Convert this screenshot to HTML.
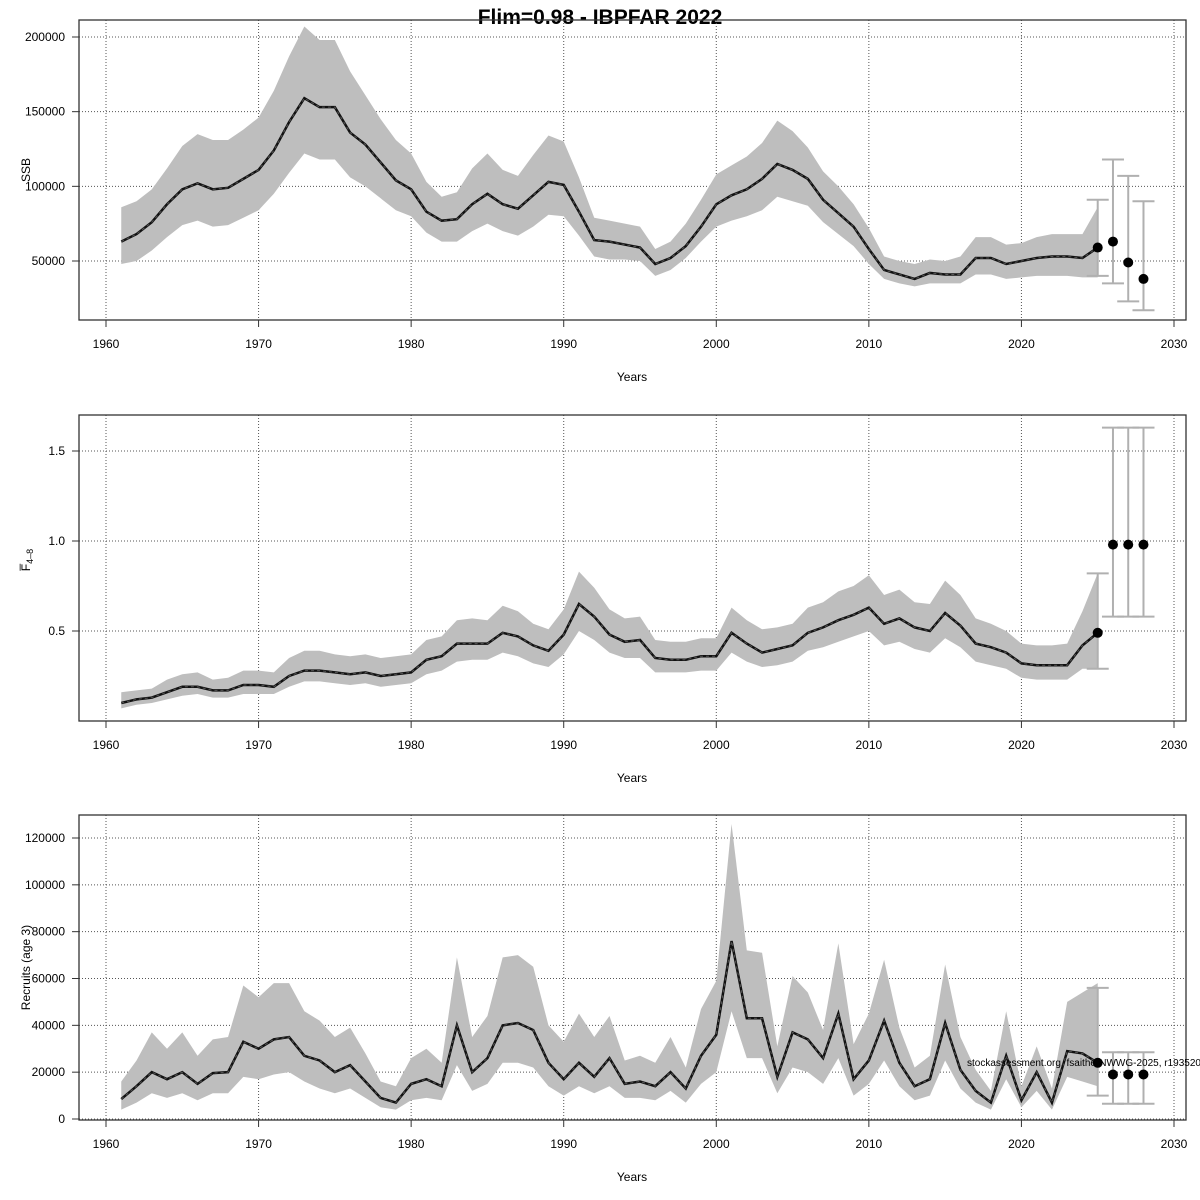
<!DOCTYPE html>
<html><head><meta charset="utf-8"><style>
body{margin:0;background:#fff;}
svg{display:block;font-family:"Liberation Sans",Arial,sans-serif;}
</style></head><body>
<svg id="chart" width="1200" height="1200" viewBox="0 0 1200 1200" xmlns="http://www.w3.org/2000/svg">
<text x="600" y="24" text-anchor="middle" font-size="21" font-weight="bold">Flim=0.98 - IBPFAR 2022</text>
</svg>
<script>
const years=[];for(let y=1961;y<=2025;y++)years.push(y);
const ssbMed=[63,68,76,88,98,102,98,99,105,111,124,143,159,153,153,136,128,116,104,98,83,77,78,88,95,88,85,94,103,101,83,64,63,61,59,48,52,60,73,88,94,98,105,115,111,105,91,82,73,58,44,41,38,42,41,41,52,52,48,50,52,53,53,52,59];
const ssbLow=[48,50,57,66,74,77,73,74,79,84,95,109,122,118,118,106,100,92,84,80,69,63,63,70,75,70,67,73,81,80,67,53,51,51,50,40,44,52,63,73,77,80,84,93,90,87,76,68,60,48,38,35,33,35,35,35,41,41,38,39,40,40,40,39,39];
const ssbHigh=[86,90,98,112,127,135,131,131,138,146,164,187,207,198,198,177,161,145,131,122,103,93,96,112,122,111,107,121,134,130,106,79,77,75,73,58,63,75,91,108,114,120,129,144,137,126,110,100,88,72,53,50,48,51,50,53,66,66,61,62,66,68,68,68,86];
const ssbFcYears=[2025,2026,2027,2028];
const ssbFc=[59,63,49,38];
const ssbFcLow=[40,35,23,17];
const ssbFcHigh=[91,118,107,90];
const ssbTicks=[50000,100000,150000,200000];

const fMed=[0.10,0.12,0.13,0.16,0.19,0.19,0.17,0.17,0.20,0.20,0.19,0.25,0.28,0.28,0.27,0.26,0.27,0.25,0.26,0.27,0.34,0.36,0.43,0.43,0.43,0.49,0.47,0.42,0.39,0.48,0.65,0.58,0.48,0.44,0.45,0.35,0.34,0.34,0.36,0.36,0.49,0.43,0.38,0.40,0.42,0.49,0.52,0.56,0.59,0.63,0.54,0.57,0.52,0.50,0.60,0.53,0.43,0.41,0.38,0.32,0.31,0.31,0.31,0.42,0.49];
const fLow=[0.07,0.09,0.10,0.12,0.14,0.15,0.13,0.13,0.15,0.15,0.15,0.19,0.22,0.22,0.21,0.20,0.21,0.19,0.20,0.21,0.26,0.28,0.33,0.34,0.34,0.38,0.36,0.32,0.30,0.37,0.50,0.45,0.38,0.35,0.35,0.27,0.27,0.27,0.28,0.28,0.38,0.33,0.30,0.31,0.33,0.39,0.41,0.44,0.47,0.50,0.42,0.44,0.40,0.38,0.46,0.41,0.33,0.31,0.29,0.24,0.23,0.23,0.23,0.29,0.29];
const fHigh=[0.16,0.17,0.18,0.23,0.26,0.27,0.23,0.24,0.28,0.28,0.27,0.35,0.39,0.39,0.37,0.36,0.37,0.35,0.36,0.37,0.45,0.47,0.56,0.57,0.56,0.64,0.61,0.54,0.51,0.62,0.83,0.74,0.62,0.57,0.58,0.45,0.44,0.44,0.46,0.46,0.63,0.56,0.51,0.52,0.54,0.63,0.66,0.72,0.75,0.81,0.70,0.73,0.66,0.65,0.78,0.70,0.57,0.54,0.50,0.43,0.42,0.42,0.43,0.61,0.82];
const fFc=[0.49,0.98,0.98,0.98];
const fFcLow=[0.29,0.58,0.58,0.58];
const fFcHigh=[0.82,1.63,1.63,1.63];
const fTicks=[0.5,1.0,1.5];

const recMed=[8.5,14,20,17,20,15,19.6,20,33,30,34,35,27,25,20,23,16,9,7,15,17,14,40,20,26,40,41,38,24,17,24,18,26,15,16,14,20,13,27,36,76,43,43,18,37,34,26,45,17,25,42,24,14,17,41,21,12,7,27,8,20,7,29,28,24];
const recLow=[4,7,11,9,11,8,11,11,18,17,19,20,16,13,11,13,9,5,4,8,9,8,23,12,15,24,24,22,14,10,14,11,14,9,9,8,12,7,15,20,46,26,26,11,22,20,15,26,10,15,25,14,8,10,25,13,7,4,17,5,12,4,18,16,14];
const recHigh=[16,25,37,30,37,27,34,35,57,52,58,58,46,42,35,39,28,16,14,26,30,24,69,35,44,69,70,65,40,33,45,35,44,25,27,24,35,22,47,59,126,72,71,31,61,54,38,75,32,45,68,39,22,27,66,35,21,12,46,14,31,13,50,54,58];
const recFc=[24,19,19,19];
const recFcLow=[10,6.5,6.5,6.5];
const recFcHigh=[56,28.5,28.5,28.5];
const recTicks=[0,20000,40000,60000,80000,100000,120000];
const xTicks=[1960,1970,1980,1990,2000,2010,2020,2030];

const svg=document.getElementById('chart');
const NS='http://www.w3.org/2000/svg';
function mk(tag,attrs,parent){const e=document.createElementNS(NS,tag);for(const k in attrs)e.setAttribute(k,attrs[k]);(parent||svg).appendChild(e);return e;}
const L=79,R=1186;
function xs(yr){return 106+(yr-1960)*(1174-106)/70;}

function panel(o){
  const g=mk('g',{});
  
  
  const ys=v=>o.y0+(v-o.v0)*(o.y1-o.y0)/(o.v1-o.v0);
  xTicks.forEach(t=>{const l=mk('line',{x1:xs(t),x2:xs(t),y1:o.top,y2:o.bot,stroke:'#555','stroke-width':1,'stroke-dasharray':'1,2'},g);
    });
  o.ticks.forEach(t=>{const l=mk('line',{x1:L,x2:R,y1:ys(t),y2:ys(t),stroke:'#555','stroke-width':1,'stroke-dasharray':'1,2'},g);
    });
  let pts=years.map((y,i)=>xs(y)+','+ys(o.hi[i]*o.sc)).concat(years.slice().reverse().map((y,j)=>{const i=years.length-1-j;return xs(y)+','+ys(o.lo[i]*o.sc);}));
  const band=mk('polygon',{points:pts.join(' '),fill:'#bebebe',stroke:'none'},g);
  
  const lp=years.map((y,i)=>xs(y)+','+ys(o.med[i]*o.sc)).join(' ');
  const line=mk('polyline',{points:lp,fill:'none',stroke:'#111','stroke-width':2.5},g);
  
  mk('polyline',{points:lp,fill:'none',stroke:'#555','stroke-width':1,'stroke-dasharray':'3,3'},g);
  ssbFcYears.forEach((yr,i)=>{
    const x=xs(yr);
    const eb=mk('g',{},g);
    
    mk('line',{x1:x,x2:x,y1:ys(o.fl[i]*o.sc),y2:ys(o.fh[i]*o.sc),stroke:'#b0b0b0','stroke-width':2},eb);
    [o.fl[i],o.fh[i]].forEach(v=>mk('line',{x1:x-11,x2:x+11,y1:ys(v*o.sc),y2:ys(v*o.sc),stroke:'#b0b0b0','stroke-width':2},eb));
  });
  ssbFcYears.forEach((yr,i)=>{
    const c=mk('circle',{cx:xs(yr),cy:ys(o.fc[i]*o.sc),r:5,fill:'#000'},g);
    
  });
  const fr=mk('rect',{x:L,y:o.top,width:R-L,height:o.bot-o.top,fill:'none',stroke:'#333','stroke-width':1.3},g);
  
  xTicks.forEach(t=>{mk('line',{x1:xs(t),x2:xs(t),y1:o.bot,y2:o.bot+7,stroke:'#333'},g);
    const tx=mk('text',{x:xs(t),y:o.bot+28,'text-anchor':'middle','font-size':12},g);tx.textContent=t;
    });
  o.ticks.forEach(t=>{mk('line',{x1:L-7,x2:L,y1:ys(t),y2:ys(t),stroke:'#333'},g);
    const tx=mk('text',{x:65,y:ys(t)+4,'text-anchor':'end','font-size':12},g);tx.textContent=o.fmt(t);
    });
  const xt=mk('text',{x:632,y:o.bot+61,'text-anchor':'middle','font-size':12},g);xt.textContent='Years';
  
  const yt=mk('text',{x:0,y:0,'text-anchor':'middle','font-size':12,transform:'translate(30,'+((o.top+o.bot)/2+o.yoff)+') rotate(-90)'},g);
  yt.innerHTML=o.ytitle;
  
  return g;
}
panel({name:'ssb-panel',top:20,bot:320,y0:261,v0:50000,y1:37,v1:200000,ticks:ssbTicks,fmt:t=>t,med:ssbMed,lo:ssbLow,hi:ssbHigh,fc:ssbFc,fl:ssbFcLow,fh:ssbFcHigh,sc:1000,ytitle:'SSB',yoff:0});
panel({name:'fishing-mortality-panel',top:415,bot:721,y0:631,v0:0.5,y1:451,v1:1.5,ticks:fTicks,fmt:t=>t.toFixed(1),med:fMed,lo:fLow,hi:fHigh,fc:fFc,fl:fFcLow,fh:fFcHigh,sc:1,ytitle:'F\u0305<tspan font-size="9" dy="3">4\u20138</tspan>',yoff:-8});
panel({name:'recruits-panel',top:815,bot:1120,y0:1119,v0:0,y1:838,v1:120000,ticks:recTicks,fmt:t=>t,med:recMed,lo:recLow,hi:recHigh,fc:recFc,fl:recFcLow,fh:recFcHigh,sc:1000,ytitle:'Recruits (age 3)',yoff:0});
const note=mk('text',{x:967,y:1066,'font-size':10});
note.textContent='stockassessment.org, fsaithe-NWWG-2025, r1935202';


</script>
</body></html>
